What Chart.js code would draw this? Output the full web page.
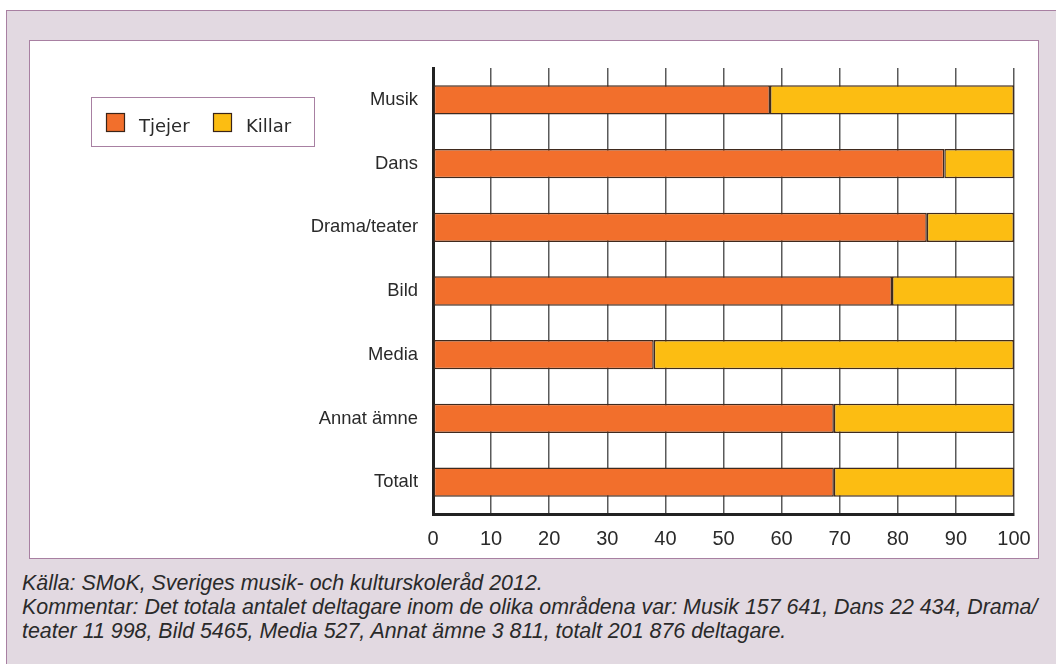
<!DOCTYPE html>
<html>
<head>
<meta charset="utf-8">
<script src="https://cdn.jsdelivr.net/npm/chart.js@4/dist/chart.umd.min.js"></script>
<style>
  html, body { margin: 0; padding: 0; background: #ffffff; width: 1056px; height: 664px; overflow: hidden; }
  #frame { position: absolute; left: 6px; top: 10px; width: 1070px; height: 670px; background: #e2d9e1; border: 1px solid #a880a2; box-sizing: border-box; }
  #inner { position: absolute; left: 29px; top: 40px; width: 1010px; height: 519px; background: #ffffff; border: 1px solid #a880a2; box-sizing: border-box; }
  #wrap { position: absolute; left: 30px; top: 41px; width: 1008px; height: 517px; }
  #notes { position: absolute; left: 22px; top: 571px; font-family: "Liberation Sans", Arial, sans-serif; font-style: italic; font-size: 21.4px; line-height: 24px; color: #2a2a2a; white-space: nowrap; }
</style>
</head>
<body>
<div id="frame"></div>
<div id="inner"></div>
<div id="wrap"><canvas id="c" width="1008" height="517"></canvas></div>
<div id="notes">Källa: SMoK, Sveriges musik- och kulturskoleråd 2012.<br>Kommentar: Det totala antalet deltagare inom de olika områdena var: Musik 157 641, Dans 22 434, Drama/<br>teater 11 998, Bild 5465, Media 527, Annat ämne 3 811, totalt 201 876 deltagare.</div>
<script>
const categories = ["Musik", "Dans", "Drama/teater", "Bild", "Media", "Annat ämne", "Totalt"];
const tjejer = [58, 88, 85, 79, 38, 69, 69];
const killar = [42, 12, 15, 21, 62, 31, 31];
const seriesNames = ["Tjejer", "Killar"];
const xTicks = [0, 10, 20, 30, 40, 50, 60, 70, 80, 90, 100];

const legendPlugin = {
  id: 'boxLegend',
  afterDraw(chart) {
    const ctx = chart.ctx;
    ctx.save();
    ctx.strokeStyle = '#a880a2';
    ctx.lineWidth = 1;
    ctx.strokeRect(61.5, 56.5, 223, 49);
    const xs = [76, 183];
    ctx.font = '18px "DejaVu Sans", sans-serif';
    ctx.textBaseline = 'middle';
    ctx.textAlign = 'left';
    chart.data.datasets.forEach((ds, i) => {
      ctx.fillStyle = ds.backgroundColor;
      ctx.fillRect(xs[i], 72, 19, 19);
      ctx.strokeStyle = '#3a2418';
      ctx.lineWidth = 1.2;
      ctx.strokeRect(xs[i] + 0.5, 72.5, 18, 18);
      ctx.fillStyle = '#2a2a2a';
      ctx.fillText(ds.label, xs[i] + 33, 86);
    });
    ctx.restore();
  }
};

new Chart(document.getElementById('c'), {
  type: 'bar',
  data: {
    labels: categories,
    datasets: [
      { label: seriesNames[0], data: tjejer, backgroundColor: '#f26f2c', borderColor: '#3f2a1e', borderWidth: 1.5, borderSkipped: false },
      { label: seriesNames[1], data: killar, backgroundColor: '#fcbd12', borderColor: '#3f2a1e', borderWidth: 1.5, borderSkipped: false }
    ]
  },
  options: {
    indexAxis: 'y',
    responsive: false,
    animation: false,
    devicePixelRatio: 1,
    datasets: { bar: { categoryPercentage: 1, barPercentage: 0.46 } },
    layout: { padding: { left: 0, top: 27, right: 24, bottom: 0 } },
    plugins: { legend: { display: false }, tooltip: { enabled: false } },
    scales: {
      x: {
        stacked: true,
        min: 0, max: 100,
        afterBuildTicks: (s) => { s.ticks = xTicks.map(v => ({ value: v })); },
        afterFit: (s) => { s.height = 44; s.paddingLeft = 0; s.paddingRight = 0; },
        ticks: { padding: 13, color: '#2a2a2a', font: { family: '"Liberation Sans", Arial, sans-serif', size: 20 } },
        grid: { color: '#5a5a5a', lineWidth: 1.5, drawTicks: false, tickLength: 0 },
        border: { color: '#222222', width: 3 }
      },
      y: {
        stacked: true,
        afterFit: (s) => { s.width = 403; s.paddingTop = 0; s.paddingBottom = 0; },
        ticks: { padding: 15, color: '#2a2a2a', font: { family: '"Liberation Sans", Arial, sans-serif', size: 18.4 } },
        grid: { drawOnChartArea: false, drawTicks: false, tickLength: 0 },
        border: { color: '#222222', width: 3 }
      }
    }
  },
  plugins: [legendPlugin]
});
</script>
</body>
</html>
